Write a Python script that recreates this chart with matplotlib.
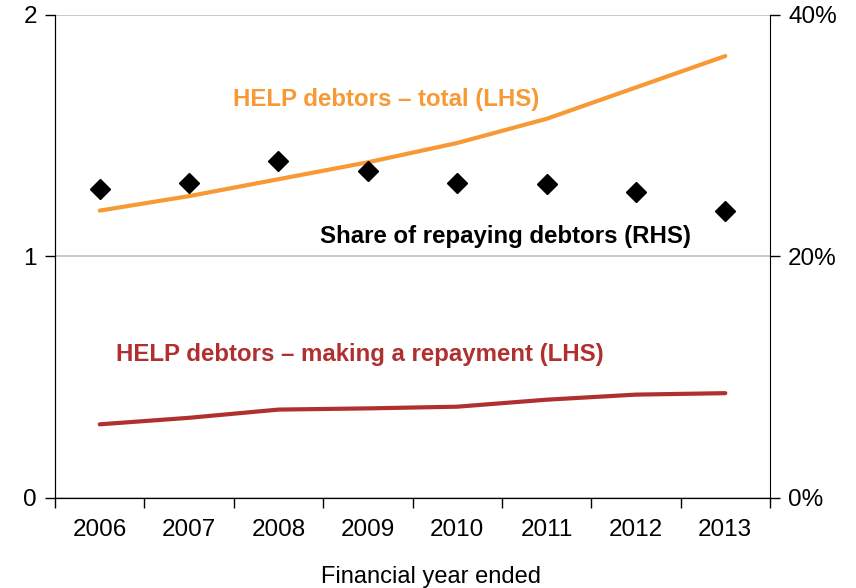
import matplotlib.pyplot as plt
from matplotlib.ticker import FuncFormatter

plt.rcParams["font.family"] = ["Liberation Sans", "DejaVu Sans"]

YEARS = ["2006", "2007", "2008", "2009", "2010", "2011", "2012", "2013"]
# millions of debtors (LHS)
TOTAL = [1.19, 1.25, 1.32, 1.39, 1.47, 1.57, 1.70, 1.83]
REPAYING = [0.305, 0.332, 0.366, 0.371, 0.378, 0.407, 0.428, 0.434]
# per cent of debtors making a repayment (RHS)
SHARE = [25.6, 26.1, 27.9, 27.1, 26.1, 26.0, 25.3, 23.8]

ORANGE = "#f79a35"
RED = "#b0302f"
GRID = "#c0c0c0"

fig = plt.figure(figsize=(8.56, 5.88), dpi=100)
ax = fig.add_axes([0.0643, 0.1531, 0.8352, 0.8214])
ax2 = ax.twinx()

x = list(range(len(YEARS)))
ax.plot(x, TOTAL, color=ORANGE, lw=3, solid_capstyle="round", zorder=3)
ax.plot(x, REPAYING, color=RED, lw=3, solid_capstyle="round", zorder=3)
ax2.plot(x, SHARE, ls="none", marker="D", ms=10, color="black")

ax.set_xlim(-0.5, len(YEARS) - 0.5)
ax.set_ylim(0, 2)
ax2.set_ylim(0, 40)
ax.set_yticks([0, 1, 2])
ax2.set_yticks([0, 20, 40])
ax2.yaxis.set_major_formatter(FuncFormatter(lambda v, _: f"{v:.0f}%"))

ax.set_xticks(x)
ax.set_xticklabels(YEARS)
ax.set_xticks([i - 0.5 for i in range(len(YEARS) + 1)], minor=True)
ax.tick_params(axis="x", which="major", length=0, pad=15, labelsize=17.5)
ax.tick_params(axis="x", which="minor", length=7, width=1)
ax.tick_params(axis="y", length=7, width=1, labelsize=17.5, pad=6)
ax2.tick_params(axis="y", length=7, width=1, labelsize=17.5, pad=6)

for a in (ax, ax2):
    a.spines["top"].set_visible(False)
ax.spines["right"].set_visible(False)
ax.yaxis.grid(True, color=GRID, lw=1.2)
ax.set_axisbelow(True)

ax.set_xlabel("Financial year ended", fontsize=17)
ax.xaxis.set_label_coords(0.526, -0.14)

ax.text(3.2, 1.65, "HELP debtors – total (LHS)", color=ORANGE,
        fontsize=17.3, fontweight="bold", ha="center", va="center")
ax.text(4.54, 1.081, "Share of repaying debtors (RHS)", color="black",
        fontsize=17.3, fontweight="bold", ha="center", va="center")
ax.text(2.91, 0.595, "HELP debtors – making a repayment (LHS)", color=RED,
        fontsize=17.3, fontweight="bold", ha="center", va="center")

fig.savefig("out.png", dpi=100)
